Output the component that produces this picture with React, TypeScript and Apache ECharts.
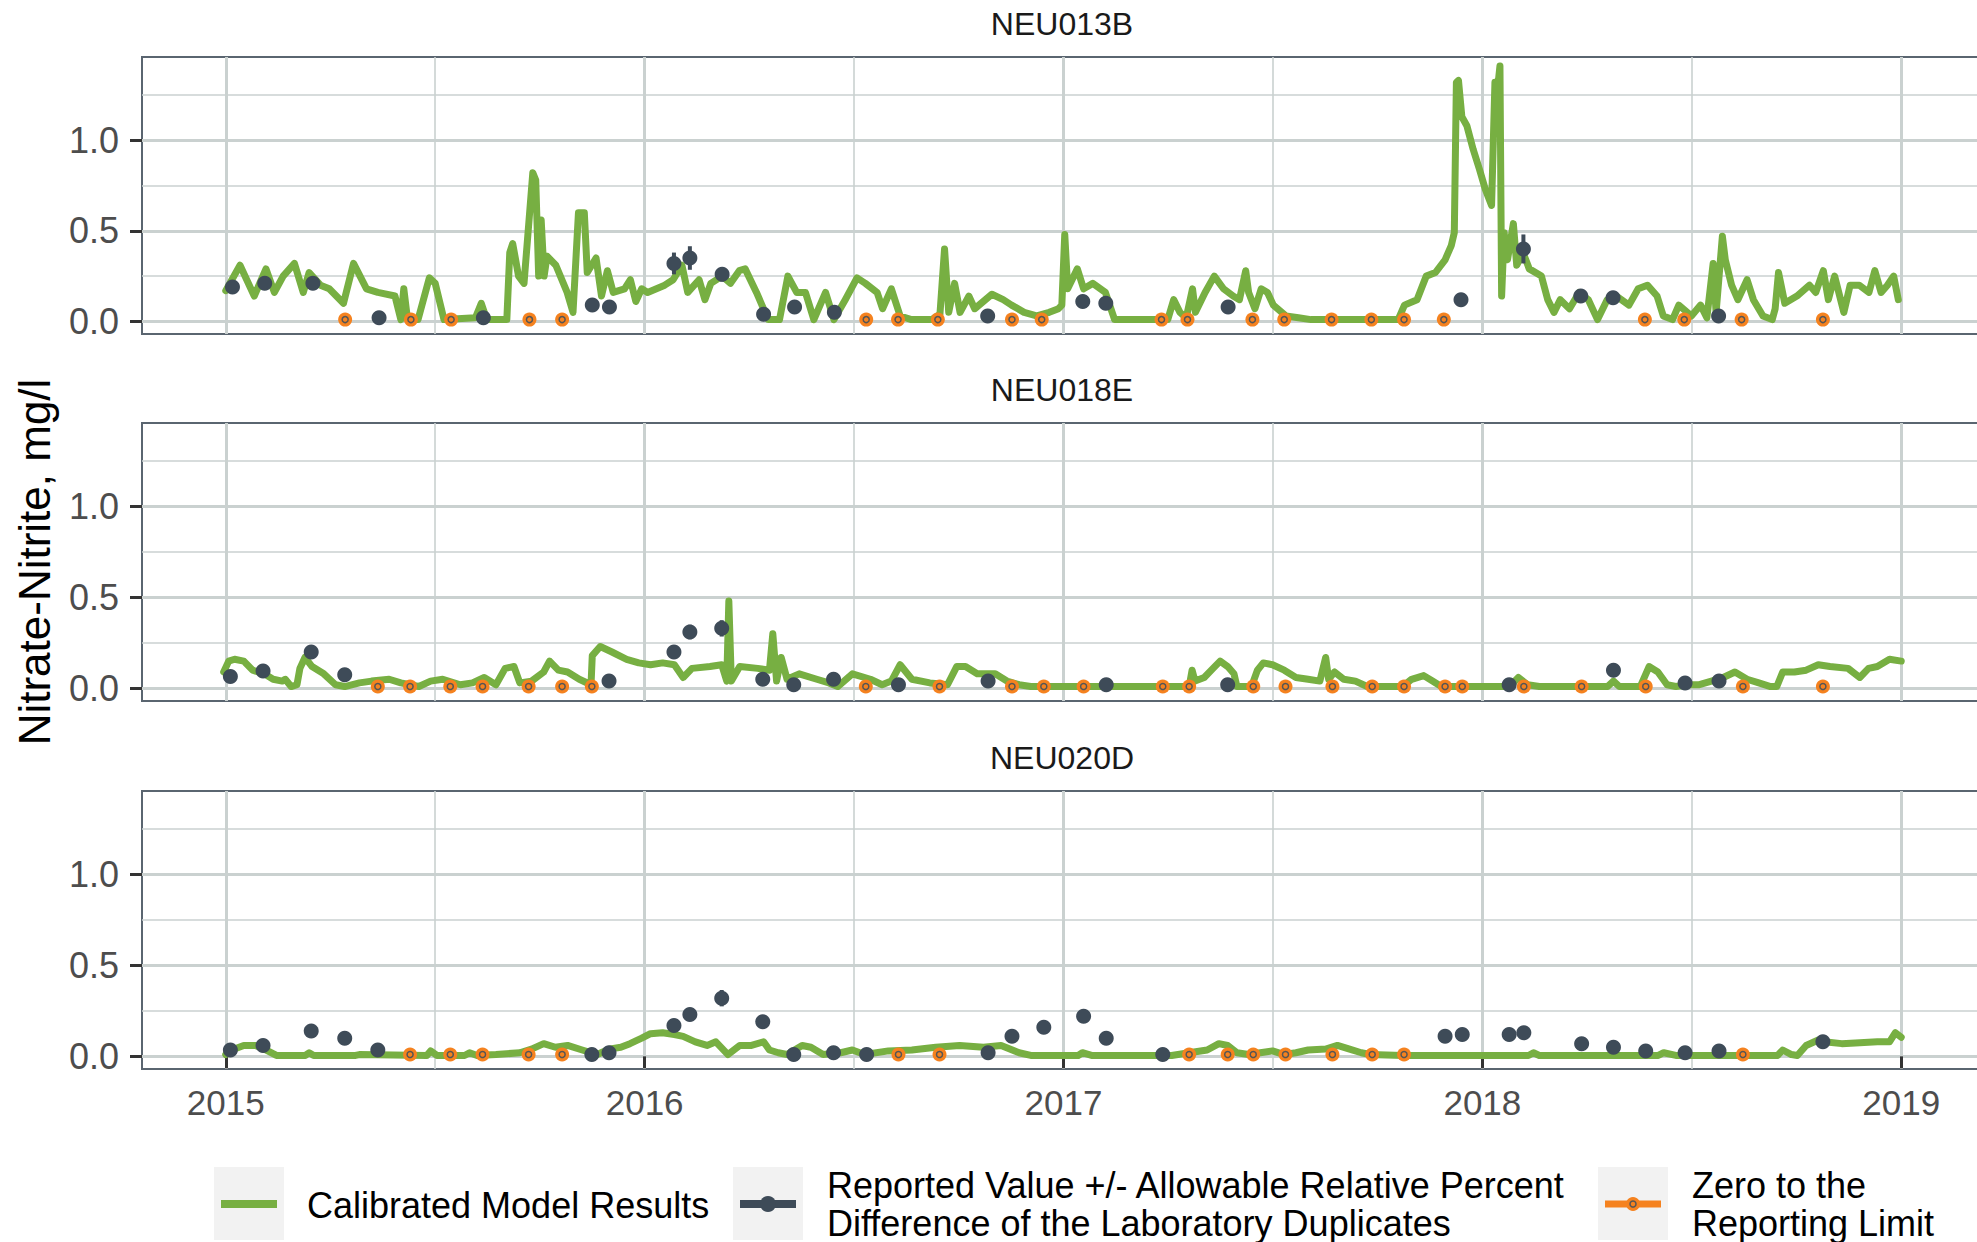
import React, { useEffect, useRef } from "react";
import * as echarts from "echarts";

// ---------- data ----------
const sites = ["NEU013B", "NEU018E", "NEU020D"];
const yearTicks = [2015, 2016, 2017, 2018, 2019];
const halfYearTicks = [2015.5, 2016.5, 2017.5, 2018.5];
const yMajorTicks = [0, 0.5, 1.0];
const yMinorTicks = [0.25, 0.75, 1.25];

// Calibrated model results [decimal year, mg/l]
const modelNEU013B = [
  [2015.0, 0.17], [2015.034, 0.31], [2015.068, 0.14], [2015.096, 0.29], [2015.116, 0.16], [2015.137, 0.25],
  [2015.164, 0.32], [2015.185, 0.16], [2015.199, 0.27], [2015.226, 0.2], [2015.247, 0.18], [2015.281, 0.1],
  [2015.305, 0.32], [2015.336, 0.18], [2015.363, 0.16], [2015.404, 0.14], [2015.418, 0.01], [2015.425, 0.18],
  [2015.434, 0.01], [2015.459, 0.01], [2015.486, 0.24], [2015.5, 0.21], [2015.521, 0.01], [2015.596, 0.02],
  [2015.61, 0.1], [2015.623, 0.01], [2015.671, 0.01], [2015.678, 0.38], [2015.685, 0.43], [2015.699, 0.25],
  [2015.712, 0.21], [2015.733, 0.82], [2015.74, 0.78], [2015.747, 0.25], [2015.753, 0.56], [2015.76, 0.25],
  [2015.767, 0.36], [2015.788, 0.31], [2015.815, 0.16], [2015.829, 0.05], [2015.842, 0.6], [2015.856, 0.6],
  [2015.863, 0.27], [2015.884, 0.35], [2015.897, 0.14], [2015.911, 0.28], [2015.925, 0.16], [2015.952, 0.18],
  [2015.966, 0.23], [2015.979, 0.11], [2015.993, 0.18], [2016.007, 0.16], [2016.048, 0.2], [2016.068, 0.23],
  [2016.089, 0.31], [2016.103, 0.16], [2016.13, 0.23], [2016.144, 0.12], [2016.158, 0.21], [2016.185, 0.25],
  [2016.205, 0.21], [2016.226, 0.28], [2016.24, 0.29], [2016.267, 0.16], [2016.295, 0.01], [2016.322, 0.01],
  [2016.342, 0.25], [2016.363, 0.16], [2016.384, 0.16], [2016.404, 0.01], [2016.432, 0.16], [2016.452, 0.01],
  [2016.479, 0.12], [2016.507, 0.24], [2016.527, 0.21], [2016.555, 0.16], [2016.568, 0.07], [2016.589, 0.18],
  [2016.61, 0.03], [2016.637, 0.01], [2016.685, 0.01], [2016.705, 0.04], [2016.716, 0.4], [2016.726, 0.05],
  [2016.74, 0.21], [2016.753, 0.05], [2016.774, 0.14], [2016.788, 0.07], [2016.829, 0.15], [2016.856, 0.12],
  [2016.876, 0.09], [2016.906, 0.05], [2016.936, 0.03], [2016.966, 0.05], [2016.988, 0.07], [2016.996, 0.09],
  [2017.003, 0.48], [2017.01, 0.18], [2017.033, 0.29], [2017.048, 0.18], [2017.07, 0.21], [2017.1, 0.16],
  [2017.122, 0.01], [2017.249, 0.01], [2017.263, 0.12], [2017.278, 0.05], [2017.293, 0.02], [2017.308, 0.18],
  [2017.315, 0.05], [2017.338, 0.16], [2017.36, 0.25], [2017.382, 0.18], [2017.405, 0.14], [2017.42, 0.12],
  [2017.435, 0.28], [2017.442, 0.16], [2017.457, 0.07], [2017.472, 0.18], [2017.487, 0.16], [2017.501, 0.09],
  [2017.531, 0.03], [2017.561, 0.02], [2017.591, 0.01], [2017.799, 0.01], [2017.814, 0.09], [2017.844, 0.12],
  [2017.866, 0.25], [2017.888, 0.27], [2017.911, 0.34], [2017.926, 0.42], [2017.933, 0.49], [2017.938, 1.32],
  [2017.943, 1.33], [2017.951, 1.13], [2017.963, 1.08], [2017.978, 0.95], [2017.993, 0.84], [2018.007, 0.73],
  [2018.022, 0.64], [2018.03, 1.32], [2018.037, 1.3], [2018.042, 1.41], [2018.046, 0.14], [2018.052, 0.49],
  [2018.06, 0.34], [2018.074, 0.54], [2018.082, 0.31], [2018.097, 0.38], [2018.112, 0.29], [2018.141, 0.25],
  [2018.156, 0.12], [2018.171, 0.05], [2018.186, 0.12], [2018.208, 0.07], [2018.231, 0.16], [2018.253, 0.12],
  [2018.275, 0.01], [2018.298, 0.12], [2018.32, 0.14], [2018.35, 0.09], [2018.372, 0.18], [2018.394, 0.2],
  [2018.417, 0.14], [2018.432, 0.03], [2018.454, 0.01], [2018.469, 0.09], [2018.499, 0.03], [2018.521, 0.09],
  [2018.536, 0.02], [2018.551, 0.32], [2018.558, 0.05], [2018.573, 0.47], [2018.58, 0.34], [2018.595, 0.2],
  [2018.61, 0.12], [2018.632, 0.23], [2018.647, 0.12], [2018.67, 0.03], [2018.692, 0.01], [2018.699, 0.07],
  [2018.707, 0.27], [2018.722, 0.1], [2018.751, 0.14], [2018.781, 0.2], [2018.796, 0.16], [2018.814, 0.28],
  [2018.826, 0.12], [2018.841, 0.25], [2018.863, 0.05], [2018.878, 0.2], [2018.9, 0.2], [2018.923, 0.16],
  [2018.937, 0.28], [2018.952, 0.16], [2018.967, 0.2], [2018.982, 0.25], [2018.993, 0.12],
];

const modelNEU018E = [
  [2014.995, 0.09], [2015.007, 0.15], [2015.021, 0.16], [2015.043, 0.15], [2015.064, 0.1], [2015.092, 0.08],
  [2015.113, 0.05], [2015.135, 0.04], [2015.142, 0.05], [2015.156, 0.01], [2015.17, 0.02], [2015.177, 0.11],
  [2015.189, 0.17], [2015.206, 0.12], [2015.234, 0.08], [2015.262, 0.02], [2015.284, 0.01], [2015.319, 0.03],
  [2015.348, 0.04], [2015.39, 0.05], [2015.418, 0.03], [2015.461, 0.01], [2015.489, 0.04], [2015.518, 0.05],
  [2015.56, 0.02], [2015.589, 0.03], [2015.617, 0.06], [2015.645, 0.02], [2015.667, 0.11], [2015.688, 0.12],
  [2015.702, 0.03], [2015.73, 0.04], [2015.759, 0.09], [2015.773, 0.15], [2015.794, 0.1], [2015.816, 0.09],
  [2015.844, 0.05], [2015.872, 0.02], [2015.875, 0.18], [2015.894, 0.23], [2015.922, 0.2], [2015.957, 0.16],
  [2015.986, 0.14], [2016.014, 0.13], [2016.043, 0.14], [2016.071, 0.13], [2016.092, 0.06], [2016.113, 0.11],
  [2016.156, 0.12], [2016.184, 0.13], [2016.196, 0.04], [2016.201, 0.48], [2016.207, 0.04], [2016.227, 0.12],
  [2016.27, 0.11], [2016.298, 0.1], [2016.306, 0.3], [2016.315, 0.04], [2016.326, 0.17], [2016.34, 0.05],
  [2016.369, 0.08], [2016.411, 0.05], [2016.44, 0.03], [2016.461, 0.01], [2016.496, 0.08], [2016.539, 0.05],
  [2016.567, 0.02], [2016.589, 0.04], [2016.61, 0.13], [2016.638, 0.05], [2016.681, 0.03], [2016.723, 0.02],
  [2016.745, 0.12], [2016.766, 0.12], [2016.794, 0.08], [2016.837, 0.08], [2016.865, 0.04], [2016.894, 0.02],
  [2016.922, 0.01], [2017.3, 0.01], [2017.307, 0.1], [2017.314, 0.04], [2017.336, 0.06], [2017.357, 0.11],
  [2017.374, 0.15], [2017.392, 0.12], [2017.407, 0.08], [2017.414, 0.01], [2017.449, 0.01], [2017.463, 0.1],
  [2017.477, 0.14], [2017.499, 0.13], [2017.527, 0.1], [2017.555, 0.06], [2017.584, 0.05], [2017.612, 0.04],
  [2017.626, 0.17], [2017.633, 0.05], [2017.647, 0.09], [2017.669, 0.05], [2017.697, 0.04], [2017.725, 0.01],
  [2017.81, 0.01], [2017.831, 0.05], [2017.86, 0.07], [2017.881, 0.04], [2017.902, 0.01], [2018.065, 0.01],
  [2018.086, 0.06], [2018.108, 0.02], [2018.136, 0.01], [2018.299, 0.01], [2018.313, 0.04], [2018.327, 0.01],
  [2018.377, 0.01], [2018.398, 0.12], [2018.419, 0.09], [2018.441, 0.02], [2018.462, 0.01], [2018.49, 0.02],
  [2018.518, 0.02], [2018.547, 0.04], [2018.575, 0.06], [2018.603, 0.09], [2018.632, 0.05], [2018.66, 0.03],
  [2018.688, 0.01], [2018.703, 0.01], [2018.717, 0.09], [2018.745, 0.09], [2018.773, 0.1], [2018.802, 0.13],
  [2018.83, 0.12], [2018.873, 0.11], [2018.901, 0.06], [2018.922, 0.11], [2018.943, 0.12], [2018.972, 0.16],
  [2019.0, 0.15],
];

const modelNEU020D = [
  [2015.0, 0.01], [2015.014, 0.035], [2015.043, 0.06], [2015.071, 0.06], [2015.092, 0.04], [2015.121, 0.005],
  [2015.19, 0.005], [2015.199, 0.02], [2015.21, 0.005], [2015.31, 0.005], [2015.319, 0.01], [2015.48, 0.005],
  [2015.489, 0.03], [2015.504, 0.005], [2015.57, 0.005], [2015.582, 0.02], [2015.6, 0.005], [2015.645, 0.01],
  [2015.702, 0.02], [2015.73, 0.04], [2015.759, 0.07], [2015.787, 0.05], [2015.816, 0.06], [2015.851, 0.035],
  [2015.887, 0.01], [2015.915, 0.04], [2015.943, 0.05], [2015.965, 0.07], [2015.993, 0.1], [2016.014, 0.125],
  [2016.043, 0.13], [2016.071, 0.12], [2016.092, 0.11], [2016.121, 0.08], [2016.149, 0.06], [2016.17, 0.08],
  [2016.199, 0.01], [2016.227, 0.06], [2016.255, 0.06], [2016.284, 0.08], [2016.298, 0.035], [2016.319, 0.02],
  [2016.34, 0.01], [2016.376, 0.06], [2016.397, 0.05], [2016.426, 0.01], [2016.468, 0.02], [2016.496, 0.035],
  [2016.525, 0.01], [2016.582, 0.03], [2016.638, 0.035], [2016.695, 0.05], [2016.752, 0.06], [2016.809, 0.05],
  [2016.851, 0.06], [2016.894, 0.02], [2016.922, 0.005], [2017.035, 0.005], [2017.045, 0.02], [2017.067, 0.005],
  [2017.258, 0.005], [2017.3, 0.02], [2017.343, 0.035], [2017.371, 0.07], [2017.392, 0.06], [2017.414, 0.02],
  [2017.442, 0.01], [2017.47, 0.02], [2017.499, 0.03], [2017.527, 0.01], [2017.555, 0.02], [2017.584, 0.035],
  [2017.626, 0.04], [2017.654, 0.06], [2017.683, 0.04], [2017.711, 0.02], [2017.732, 0.01], [2017.81, 0.005],
  [2018.11, 0.005], [2018.122, 0.02], [2018.136, 0.005], [2018.42, 0.005], [2018.433, 0.02], [2018.462, 0.005],
  [2018.705, 0.005], [2018.717, 0.035], [2018.738, 0.01], [2018.752, 0.005], [2018.773, 0.06], [2018.802, 0.09],
  [2018.816, 0.08], [2018.858, 0.07], [2018.901, 0.075], [2018.943, 0.08], [2018.972, 0.08], [2018.986, 0.13],
  [2019.0, 0.105],
];

// Reported values [decimal year, mg/l, +/- allowable RPD]
const reportedNEU013B = [
  [2015.016, 0.19, 0.02], [2015.093, 0.21, 0.02], [2015.208, 0.21, 0.02], [2015.366, 0.02, 0], [2015.615, 0.02, 0],
  [2015.875, 0.09, 0.01], [2015.916, 0.08, 0.01], [2016.07, 0.32, 0.06], [2016.108, 0.35, 0.065], [2016.185, 0.26, 0.04],
  [2016.284, 0.04, 0], [2016.358, 0.08, 0.01], [2016.453, 0.05, 0], [2016.819, 0.03, 0], [2017.046, 0.11, 0.01],
  [2017.101, 0.1, 0.01], [2017.393, 0.08, 0.01], [2017.949, 0.12, 0.01], [2018.098, 0.4, 0.08], [2018.235, 0.14, 0.02],
  [2018.312, 0.13, 0.02], [2018.564, 0.03, 0],
];
const reportedNEU018E = [
  [2015.011, 0.065, 0.01], [2015.089, 0.095, 0.01], [2015.204, 0.2, 0.02], [2015.284, 0.075, 0.01], [2015.915, 0.04, 0],
  [2016.07, 0.2, 0.02], [2016.108, 0.31, 0.04], [2016.184, 0.33, 0.045], [2016.282, 0.05, 0], [2016.356, 0.02, 0],
  [2016.451, 0.05, 0], [2016.606, 0.02, 0], [2016.82, 0.04, 0], [2017.102, 0.02, 0], [2017.392, 0.02, 0],
  [2018.064, 0.02, 0], [2018.313, 0.1, 0.01], [2018.484, 0.03, 0], [2018.565, 0.04, 0],
];
const reportedNEU020D = [
  [2015.011, 0.035, 0], [2015.089, 0.06, 0.01], [2015.204, 0.14, 0.015], [2015.284, 0.1, 0.01], [2015.363, 0.035, 0],
  [2015.874, 0.01, 0], [2015.915, 0.02, 0], [2016.07, 0.17, 0.02], [2016.108, 0.23, 0.035], [2016.184, 0.32, 0.045],
  [2016.282, 0.19, 0.02], [2016.356, 0.01, 0], [2016.451, 0.02, 0], [2016.53, 0.01, 0], [2016.82, 0.02, 0],
  [2016.877, 0.11, 0.01], [2016.953, 0.16, 0.02], [2017.048, 0.22, 0.03], [2017.102, 0.1, 0.01], [2017.237, 0.01, 0],
  [2017.911, 0.11, 0.01], [2017.952, 0.12, 0.01], [2018.064, 0.12, 0.01], [2018.099, 0.13, 0.015], [2018.237, 0.07, 0.01],
  [2018.313, 0.05, 0], [2018.39, 0.03, 0], [2018.484, 0.02, 0], [2018.565, 0.03, 0], [2018.813, 0.08, 0.01],
];

// Zero to the reporting limit (non-detects) [decimal year, mg/l]
const zeroRLNEU013B = [
  [2015.285, 0.01], [2015.442, 0.01], [2015.538, 0.01], [2015.725, 0.01], [2015.803, 0.01], [2016.529, 0.01],
  [2016.605, 0.01], [2016.7, 0.01], [2016.877, 0.01], [2016.948, 0.01], [2017.234, 0.01], [2017.296, 0.01],
  [2017.451, 0.01], [2017.527, 0.01], [2017.64, 0.01], [2017.735, 0.01], [2017.813, 0.01], [2017.908, 0.01],
  [2018.388, 0.01], [2018.482, 0.01], [2018.619, 0.01], [2018.813, 0.01],
];
const zeroRLNEU018E = [
  [2015.363, 0.01], [2015.44, 0.01], [2015.536, 0.01], [2015.613, 0.01], [2015.723, 0.01], [2015.803, 0.01],
  [2015.874, 0.01], [2016.528, 0.01], [2016.704, 0.01], [2016.877, 0.01], [2016.953, 0.01], [2017.048, 0.01],
  [2017.237, 0.01], [2017.3, 0.01], [2017.453, 0.01], [2017.53, 0.01], [2017.642, 0.01], [2017.737, 0.01],
  [2017.813, 0.01], [2017.911, 0.01], [2017.952, 0.01], [2018.099, 0.01], [2018.237, 0.01], [2018.39, 0.01],
  [2018.622, 0.01], [2018.813, 0.01],
];
const zeroRLNEU020D = [
  [2015.44, 0.01], [2015.536, 0.01], [2015.613, 0.01], [2015.723, 0.01], [2015.803, 0.01], [2016.606, 0.01],
  [2016.704, 0.01], [2017.3, 0.01], [2017.392, 0.01], [2017.453, 0.01], [2017.53, 0.01], [2017.642, 0.01],
  [2017.737, 0.01], [2017.813, 0.01], [2018.622, 0.01],
];

const modelSets = [modelNEU013B, modelNEU018E, modelNEU020D];
const reportedSets = [reportedNEU013B, reportedNEU018E, reportedNEU020D];
const zeroRLSets = [zeroRLNEU013B, zeroRLNEU018E, zeroRLNEU020D];

const legendLabels = [
  ["Calibrated Model Results"],
  ["Reported Value +/- Allowable Relative Percent", "Difference of the Laboratory Duplicates"],
  ["Zero to the", "Reporting Limit"],
];
const yTitle = "Nitrate-Nitrite, mg/l";

// ---------- style ----------
const FONT = '"Liberation Sans", Arial, Helvetica, sans-serif';
const GREEN = "#77AF42";
const DARK = "#3E4B58";
const ORANGE = "#F5821F";
const GRID = "#CAD1D0";
const BORDER = "#5A6570";
const X_MIN = 2014.8;
const X_MAX = 2019.2;
const Y_MIN = -0.0695;
const Y_MAX = 1.4595;

const panels = [
  { top: 57, height: 277, stripY: 24 },
  { top: 423, height: 278, stripY: 390 },
  { top: 791, height: 278, stripY: 758 },
];

export default function App() {
  const ref = useRef<HTMLDivElement>(null);

  useEffect(() => {
    if (!ref.current) return;
    const chart = echarts.init(ref.current, undefined, { renderer: "svg" });

    const grid: any[] = [];
    const xAxis: any[] = [];
    const yAxis: any[] = [];
    const series: any[] = [];

    panels.forEach((p, i) => {
      const isBottom = i === panels.length - 1;
      grid.push({
        left: 142,
        width: 1843,
        top: p.top,
        height: p.height,
        show: true,
        borderColor: BORDER,
        borderWidth: 2,
        backgroundColor: "transparent",
        containLabel: false,
        outerBoundsMode: "none",
      });
      // major x
      xAxis.push({
        gridIndex: i,
        type: "value",
        min: X_MIN,
        max: X_MAX,
        position: "bottom",
        axisLine: { show: false },
        axisTick: {
          show: isBottom,
          customValues: yearTicks,
          length: 12,
          lineStyle: { color: "#333333", width: 3 },
        },
        axisLabel: {
          show: isBottom,
          customValues: yearTicks,
          formatter: (v: number) => String(Math.round(v)),
          fontSize: 35,
          fontFamily: FONT,
          color: "#4D4D4D",
          margin: 16,
        },
        splitLine: { show: true, lineStyle: { color: GRID, width: 3 } },
      });
      // minor x
      xAxis.push({
        gridIndex: i,
        type: "value",
        min: X_MIN,
        max: X_MAX,
        position: "top",
        axisLine: { show: false },
        axisTick: { show: false, customValues: halfYearTicks },
        axisLabel: { show: false, customValues: halfYearTicks },
        splitLine: { show: true, lineStyle: { color: GRID, width: 1.6 } },
      });
      // major y
      yAxis.push({
        gridIndex: i,
        type: "value",
        min: Y_MIN,
        max: Y_MAX,
        position: "left",
        axisLine: { show: false },
        axisTick: {
          show: true,
          customValues: yMajorTicks,
          length: 12,
          lineStyle: { color: "#333333", width: 3 },
        },
        axisLabel: {
          customValues: yMajorTicks,
          formatter: (v: number) => v.toFixed(1),
          fontSize: 36,
          fontFamily: FONT,
          color: "#4D4D4D",
          margin: 23,
        },
        splitLine: { show: true, lineStyle: { color: GRID, width: 3 } },
      });
      // minor y
      yAxis.push({
        gridIndex: i,
        type: "value",
        min: Y_MIN,
        max: Y_MAX,
        position: "right",
        axisLine: { show: false },
        axisTick: { show: false, customValues: yMinorTicks },
        axisLabel: { show: false, customValues: yMinorTicks },
        splitLine: { show: true, lineStyle: { color: GRID, width: 1.6 } },
      });

      const xi = i * 2;
      const yi = i * 2;
      series.push({
        type: "line",
        name: legendLabels[0][0],
        xAxisIndex: xi,
        yAxisIndex: yi,
        data: modelSets[i],
        showSymbol: false,
        symbol: "none",
        lineStyle: { color: GREEN, width: 7, join: "round", cap: "round" },
        silent: true,
        z: 3,
      });
      series.push({
        type: "custom",
        xAxisIndex: xi,
        yAxisIndex: yi,
        data: reportedSets[i].map((d) => [d[0], d[1] - d[2], d[1] + d[2]]),
        encode: { x: 0, y: [1, 2] },
        renderItem: (_params: any, api: any) => {
          const a = api.coord([api.value(0), api.value(1)]);
          const b = api.coord([api.value(0), api.value(2)]);
          return {
            type: "line",
            shape: { x1: a[0], y1: a[1], x2: b[0], y2: b[1] },
            style: { stroke: DARK, lineWidth: 4 },
          };
        },
        silent: true,
        z: 4,
      });
      series.push({
        type: "scatter",
        xAxisIndex: xi,
        yAxisIndex: yi,
        data: reportedSets[i].map((d) => [d[0], d[1]]),
        symbol: "circle",
        symbolSize: 15,
        itemStyle: { color: DARK, opacity: 1 },
        silent: true,
        z: 5,
      });
      series.push({
        type: "scatter",
        xAxisIndex: xi,
        yAxisIndex: yi,
        data: zeroRLSets[i],
        symbol: "circle",
        symbolSize: 14,
        itemStyle: { color: ORANGE, opacity: 1 },
        silent: true,
        z: 6,
      });
      series.push({
        type: "scatter",
        xAxisIndex: xi,
        yAxisIndex: yi,
        data: zeroRLSets[i],
        symbol: "circle",
        symbolSize: 6,
        itemStyle: { color: ORANGE, borderColor: "#555555", borderWidth: 1.5, opacity: 1 },
        silent: true,
        z: 7,
      });
    });

    const graphic: any[] = [];
    // strip labels
    panels.forEach((p, i) => {
      graphic.push({
        type: "text",
        x: 1062,
        y: p.stripY,
        silent: true,
        style: {
          text: sites[i],
          fontSize: 32,
          fontFamily: FONT,
          fill: "#1A1A1A",
          align: "center",
          verticalAlign: "middle",
        },
      });
    });
    // y title
    graphic.push({
      type: "text",
      x: 34,
      y: 562,
      rotation: Math.PI / 2,
      silent: true,
      style: {
        text: yTitle,
        fontSize: 44,
        fontFamily: FONT,
        fill: "#000000",
        align: "center",
        verticalAlign: "middle",
      },
    });
    // legend
    const keyTop = 1167;
    const keyH = 73;
    const keyY = 1204;
    const keys = [
      { x: 214, w: 70, textX: 307 },
      { x: 733, w: 70, textX: 827 },
      { x: 1598, w: 70, textX: 1692 },
    ];
    keys.forEach((k) => {
      graphic.push({
        type: "rect",
        silent: true,
        shape: { x: k.x, y: keyTop, width: k.w, height: keyH },
        style: { fill: "#F2F2F2" },
      });
    });
    graphic.push({
      type: "line",
      silent: true,
      shape: { x1: 221, y1: keyY, x2: 277, y2: keyY },
      style: { stroke: GREEN, lineWidth: 8 },
    });
    graphic.push({
      type: "line",
      silent: true,
      shape: { x1: 740, y1: keyY, x2: 796, y2: keyY },
      style: { stroke: DARK, lineWidth: 8 },
    });
    graphic.push({
      type: "circle",
      silent: true,
      shape: { cx: 768, cy: keyY, r: 8 },
      style: { fill: DARK },
    });
    graphic.push({
      type: "line",
      silent: true,
      shape: { x1: 1605, y1: keyY, x2: 1661, y2: keyY },
      style: { stroke: ORANGE, lineWidth: 7 },
    });
    graphic.push({
      type: "circle",
      silent: true,
      shape: { cx: 1633, cy: keyY, r: 7 },
      style: { fill: ORANGE },
    });
    graphic.push({
      type: "circle",
      silent: true,
      shape: { cx: 1633, cy: keyY, r: 3 },
      style: { fill: ORANGE, stroke: "#555555", lineWidth: 1.5 },
    });
    legendLabels.forEach((lines, i) => {
      const ys = lines.length === 1 ? [1205] : [1185, 1223];
      lines.forEach((t, j) => {
        graphic.push({
          type: "text",
          x: keys[i].textX,
          y: ys[j],
          silent: true,
          style: {
            text: t,
            fontSize: 36,
            fontFamily: FONT,
            fill: "#000000",
            align: "left",
            verticalAlign: "middle",
          },
        });
      });
    });

    chart.setOption({
      animation: false,
      backgroundColor: "#FFFFFF",
      grid,
      xAxis,
      yAxis,
      series,
      graphic,
    });

    return () => {
      chart.dispose();
    };
  }, []);

  return (
    <div
      ref={ref}
      style={{ position: "fixed", left: 0, top: 0, width: 1977, height: 1242, overflow: "hidden" }}
    />
  );
}
